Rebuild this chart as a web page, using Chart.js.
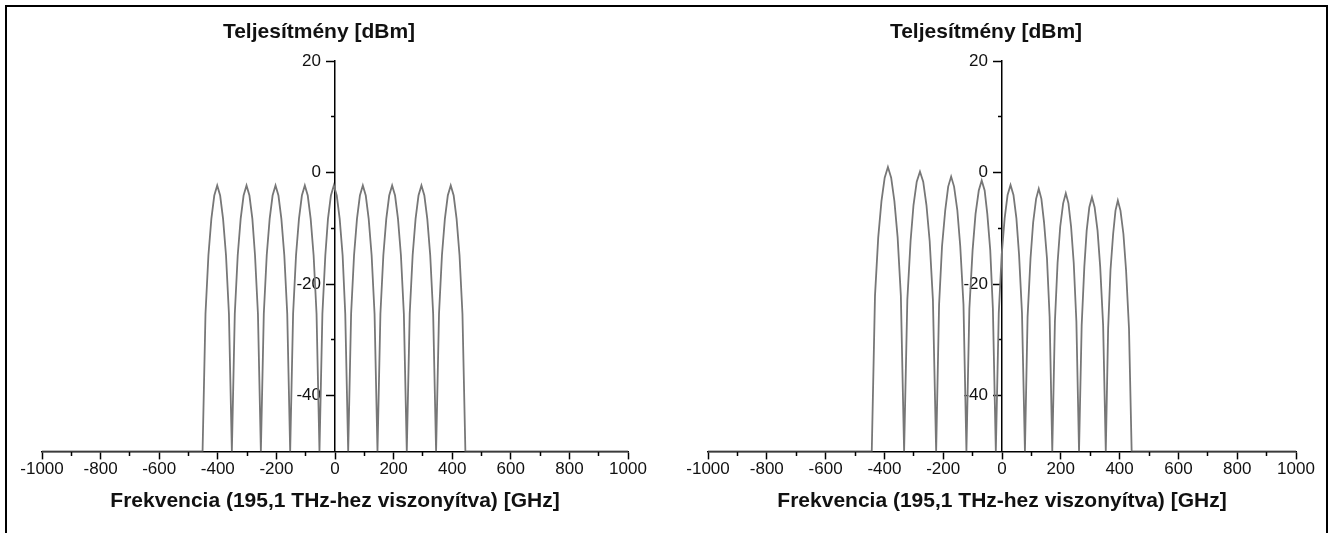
<!DOCTYPE html>
<html lang="hu">
<head>
<meta charset="utf-8">
<title>Teljesítményspektrum</title>
<script src="https://cdn.jsdelivr.net/npm/chart.js@4/dist/chart.umd.min.js"></script>
<style>
  html, body { margin: 0; padding: 0; background: #fff; }
  body { width: 1329px; height: 533px; position: relative; overflow: hidden; }
  .frame { position: absolute; left: 5px; top: 5px; width: 1323px; height: 540px;
           box-sizing: border-box; border: 2px solid #000; border-bottom: none; }
  canvas { position: absolute; top: 0; }
  #chartA { left: 0; }
  #chartB { left: 666px; }
</style>
</head>
<body>
<div class="frame"></div>
<canvas id="chartA" width="664" height="533"></canvas>
<canvas id="chartB" width="663" height="533"></canvas>
<script>
// Tengelyek osztásai
const xMajorTicks = [-1000, -800, -600, -400, -200, 0, 200, 400, 600, 800, 1000];
const xMinorTicks = [-900, -700, -500, -300, -100, 100, 300, 500, 700, 900];
const yMajorTicks = [-40, -20, 0, 20];
const yMinorTicks = [-30, -10, 10];

const yTitle = "Teljesítmény [dBm]";
const xTitle = "Frekvencia (195,1 THz-hez viszonyítva) [GHz]";

// Bal oldali spektrum: frekvencia [GHz] és teljesítmény [dBm]
const freqA = [-1000,
  -452, -442, -432, -422, -412, -402, -392, -382, -372, -362,
  -352, -342, -332, -322, -312, -302, -292, -282, -273, -263,
  -253, -243, -233, -223, -213, -203, -193, -183, -173, -163,
  -153, -143, -133, -123, -113, -103, -93, -83, -73, -63,
  -53, -43, -33, -24, -14, -4, 6, 16, 26, 35,
  45, 55, 65, 75, 85, 95, 105, 115, 125, 135,
  145, 155, 165, 175, 185, 195, 205, 215, 225, 235,
  245, 255, 265, 275, 285, 295, 305, 315, 325, 335,
  345, 355, 365, 375, 385, 395, 405, 415, 425, 435,
  445, 1000];
const powerA = [-50,
  -50, -25.3, -14.8, -8.3, -4.1, -2.3, -4.1, -8.3, -14.8, -25.3,
  -50, -25.3, -14.8, -8.3, -4.1, -2.3, -4.1, -8.3, -14.8, -25.3,
  -50, -25.3, -14.8, -8.3, -4.1, -2.3, -4.1, -8.3, -14.8, -25.3,
  -50, -25.3, -14.8, -8.3, -4.1, -2.3, -4.1, -8.3, -14.8, -25.3,
  -50, -25.3, -14.8, -8.3, -4.1, -2.3, -4.1, -8.3, -14.8, -25.3,
  -50, -25.3, -14.8, -8.3, -4.1, -2.3, -4.1, -8.3, -14.8, -25.3,
  -50, -25.3, -14.8, -8.3, -4.1, -2.3, -4.1, -8.3, -14.8, -25.3,
  -50, -25.3, -14.8, -8.3, -4.1, -2.3, -4.1, -8.3, -14.8, -25.3,
  -50, -25.3, -14.8, -8.3, -4.1, -2.3, -4.1, -8.3, -14.8, -25.3,
  -50, -50];

// Jobb oldali spektrum (csökkenő csúcsok, szűkülő csatornaköz)
const freqB = [-1000,
  -443, -432, -421, -410, -399, -388, -377, -366, -355, -344,
  -333, -322, -311, -301, -290, -279, -268, -257, -246, -235,
  -224, -214, -204, -193, -183, -173, -163, -152, -142, -131,
  -121, -111, -100, -90, -79, -69, -59, -50, -40, -31,
  -21, -11, -1, 9, 19, 29, 39, 49, 58, 68,
  78, 87, 97, 106, 116, 125, 134, 143, 153, 162,
  171, 180, 189, 198, 208, 217, 226, 235, 244, 253,
  262, 271, 280, 288, 297, 306, 315, 325, 334, 344,
  353, 361, 369, 378, 386, 394, 403, 413, 422, 432,
  441, 1000];
const powerB = [-50,
  -50, -22.1, -11.6, -5.1, -0.9, 1.0, -0.9, -5.1, -11.6, -22.1,
  -50, -22.8, -12.3, -5.8, -1.6, 0.2, -1.6, -5.8, -12.3, -22.8,
  -50, -23.7, -13.2, -6.7, -2.5, -0.7, -2.5, -6.7, -13.2, -23.7,
  -50, -24.4, -13.9, -7.4, -3.2, -1.4, -3.2, -7.4, -13.9, -24.4,
  -50, -25.2, -14.7, -8.2, -4.0, -2.2, -4.0, -8.2, -14.7, -25.2,
  -50, -25.9, -15.4, -8.9, -4.7, -2.9, -4.7, -8.9, -15.4, -25.9,
  -50, -26.7, -16.2, -9.7, -5.5, -3.7, -5.5, -9.7, -16.2, -26.7,
  -50, -27.4, -16.9, -10.4, -6.2, -4.4, -6.2, -10.4, -16.9, -27.4,
  -50, -28.0, -17.5, -11.0, -6.8, -5.0, -6.8, -11.0, -17.5, -28.0,
  -50, -50];

const FONT = "Arial, 'Liberation Sans', sans-serif";

// fix osztások a tömbökből
const setTicks = values => scale => { scale.ticks = values.map(v => ({ value: v })); };

function makeChart(canvasId, freq, power, padRight){
  const points = freq.map((f, i) => ({ x: f, y: power[i] }));
  return new Chart(document.getElementById(canvasId), {
    type: "line",
    data: {
      datasets: [{
        data: points, xAxisID: "x", yAxisID: "y",
        borderColor: "#777", borderWidth: 1.8,
        pointRadius: 0, tension: 0, fill: false
      }]
    },
    options: {
      responsive: false, animation: false, events: [],
      layout: { padding: { left: 10, right: padRight, top: 6, bottom: 15 } },
      plugins: {
        legend: { display: false },
        tooltip: { enabled: false },
        title: {
          display: true, text: yTitle, color: "#111",
          font: { family: FONT, size: 21, weight: "bold" },
          padding: { top: 14, bottom: 16 }
        }
      },
      scales: {
        x: {
          type: "linear", min: -1000, max: 1000, position: "bottom",
          afterBuildTicks: setTicks(xMajorTicks),
          grid: { drawOnChartArea: false, tickLength: 8, tickColor: "#000", tickWidth: 1.5 },
          border: { color: "#000", width: 1.5 },
          ticks: { padding: 0, color: "#111", autoSkip: false, maxRotation: 0,
                   font: { family: FONT, size: 17 }, callback: v => String(v) },
          title: { display: true, text: xTitle, color: "#111",
                   font: { family: FONT, size: 21, weight: "bold" },
                   padding: { top: 9, bottom: 4 } }
        },
        xMinor: {
          type: "linear", axis: "x", min: -1000, max: 1000, position: { y: -50 },
          afterBuildTicks: setTicks(xMinorTicks),
          grid: { drawOnChartArea: false, tickLength: 5, tickColor: "#000", tickWidth: 1.5 },
          border: { display: false },
          ticks: { display: false }
        },
        // a 0 GHz a rajzterület közepe, így "center" a függőleges tengely helye
        y: {
          type: "linear", min: -50, max: 20, position: "center",
          afterBuildTicks: setTicks(yMajorTicks),
          grid: { drawOnChartArea: false, tickLength: 8, tickColor: "#000", tickWidth: 1.5 },
          border: { color: "#000", width: 1.5 },
          ticks: { padding: 6, color: "#111", font: { family: FONT, size: 17 },
                   callback: v => String(v) }
        },
        yMinor: {
          type: "linear", axis: "y", min: -50, max: 20, position: "center",
          afterBuildTicks: setTicks(yMinorTicks),
          grid: { drawOnChartArea: false, tickLength: 4, tickColor: "#000", tickWidth: 1.5 },
          border: { display: false },
          ticks: { display: false }
        },
        // láthatatlan bal sáv: a cím így a tengelytől kicsit balra kerül
        yPad: {
          type: "linear", axis: "y", position: "left", min: 0, max: 1,
          grid: { display: false, drawTicks: false },
          border: { display: false },
          ticks: { display: false },
          afterFit: s => { s.width = 32; }
        }
      }
    }
  });
}

makeChart("chartA", freqA, powerA, 36);
makeChart("chartB", freqB, powerB, 33);
</script>
</body>
</html>
